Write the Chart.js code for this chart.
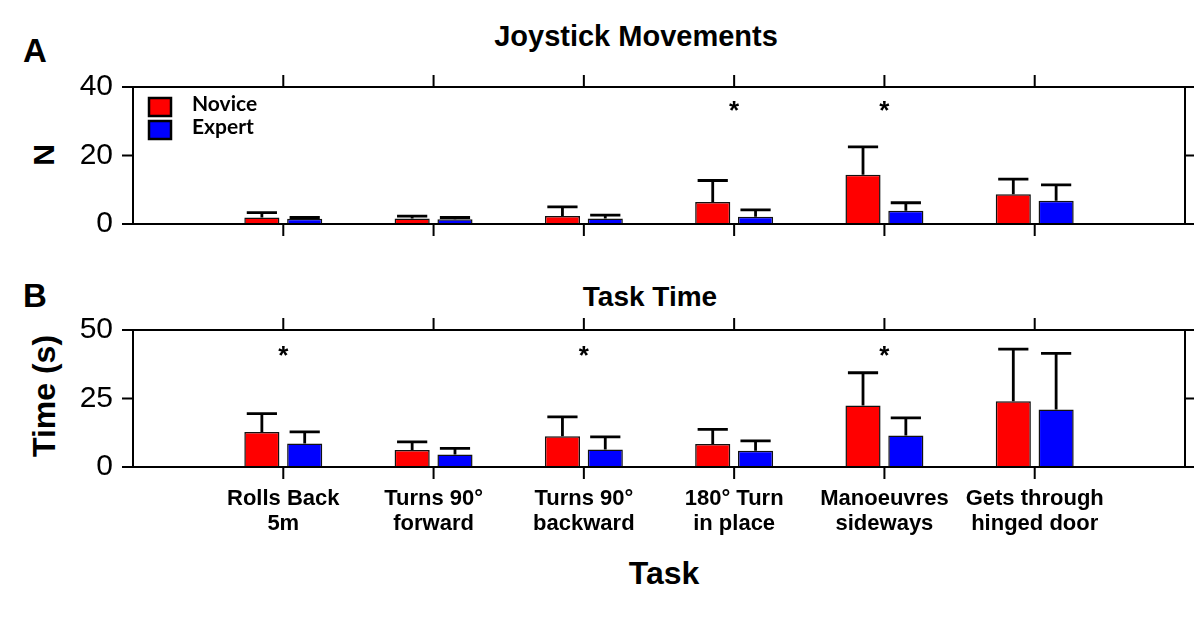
<!DOCTYPE html>
<html><head><meta charset="utf-8">
<script src="https://cdn.jsdelivr.net/npm/chart.js@4"></script>
<style>
body{margin:0;background:#fff;width:1200px;height:627px;overflow:hidden;position:relative;font-family:"Liberation Sans",Arial,sans-serif}
canvas{position:absolute;left:0}
.t{position:absolute;font-weight:bold;color:#000;white-space:nowrap;line-height:1}
</style></head><body>
<div class="t" style="left:23px;top:34px;font-size:33px">A</div>
<div class="t" style="left:23px;top:279px;font-size:33px">B</div>
<div class="t" style="left:636px;top:22px;font-size:29px;transform:translateX(-50%)">Joystick Movements</div>
<div class="t" style="left:650px;top:283px;font-size:28px;transform:translateX(-50%)">Task Time</div>
<div class="t" style="left:664px;top:557px;font-size:32px;transform:translateX(-50%)">Task</div>
<div class="t" style="left:44px;top:155px;font-size:30px;transform:translate(-50%,-50%) rotate(-90deg)">N</div>
<div class="t" style="left:44px;top:396px;font-size:32px;transform:translate(-50%,-50%) rotate(-90deg)">Time (s)</div>
<canvas id="cA" width="1200" height="270" style="top:0"></canvas>
<canvas id="cB" width="1200" height="377" style="top:250px"></canvas>
<script>
// ---- data ----
const tasks = [['Rolls Back','5m'],['Turns 90°','forward'],['Turns 90°','backward'],['180° Turn','in place'],['Manoeuvres','sideways'],['Gets through','hinged door']];
const seriesNames = ['Novice','Expert'];
const joyNovice    = [1.9, 1.6, 2.3, 6.4, 14.4, 8.7];
const joyNoviceErr = [1.4, 0.7, 2.7, 6.3, 8.1, 4.4];
const joyExpert    = [1.5, 1.4, 1.6, 2.1, 3.9, 6.8];
const joyExpertErr = [0.4, 0.5, 1.0, 2.0, 2.3, 4.6];
const joySig       = [false, false, false, true, true, false];
const timeNovice    = [12.8, 6.2, 11.2, 8.4, 22.4, 24.0];
const timeNoviceErr = [6.7, 3.0, 7.1, 5.3, 12.0, 19.0];
const timeExpert    = [8.6, 4.6, 6.4, 5.9, 11.5, 21.0];
const timeExpertErr = [4.2, 2.2, 4.6, 3.6, 6.4, 20.5];
const timeSig       = [true, false, true, false, true, false];
const joyTicks  = [0, 20, 40];
const timeTicks = [0, 25, 50];

const RED = '#ff0000', BLUE = '#0000ff';
const pad = a => [null, ...a, null];
const labels = ['', ...tasks, ''];

const panelPlugin = {
  id: 'panel',
  afterDatasetsDraw(chart, args, opts) {
    const ctx = chart.ctx, a = chart.chartArea, ys = chart.scales.y, xs = chart.scales.x;
    ctx.save();
    // error bars
    chart.data.datasets.forEach((ds, i) => {
      const meta = chart.getDatasetMeta(i);
      meta.data.forEach((el, j) => {
        const v = ds.data[j];
        if (v == null) return;
        const yc = ys.getPixelForValue(v + ds.err[j]);
        const hw = el.width * 0.43;
        ctx.strokeStyle = '#000'; ctx.lineWidth = 2.8; ctx.lineCap = 'butt';
        ctx.beginPath();
        ctx.moveTo(el.x, el.y); ctx.lineTo(el.x, yc);
        ctx.moveTo(el.x - hw, yc); ctx.lineTo(el.x + hw, yc);
        ctx.stroke();
      });
    });
    // frame
    ctx.strokeStyle = '#000'; ctx.lineWidth = 2;
    ctx.beginPath();
    ctx.moveTo(a.left, a.top); ctx.lineTo(a.right, a.top);
    ctx.moveTo(a.left, a.bottom); ctx.lineTo(a.right, a.bottom);
    ctx.moveTo(a.left, a.top - 1); ctx.lineTo(a.left, a.bottom + 1);
    ctx.moveTo(a.right, a.top - 1); ctx.lineTo(a.right, a.bottom + 1);
    // y ticks both sides, outward
    ys.ticks.forEach(t => {
      const y = ys.getPixelForValue(t.value);
      ctx.moveTo(a.left - 11, y); ctx.lineTo(a.left, y);
      ctx.moveTo(a.right, y); ctx.lineTo(a.right + 9, y);
    });
    // x ticks at categories top and bottom, outward
    for (let k = 1; k <= tasks.length; k++) {
      const x = xs.getPixelForValue(k);
      ctx.moveTo(x, a.top - 12); ctx.lineTo(x, a.top);
      ctx.moveTo(x, a.bottom); ctx.lineTo(x, a.bottom + 12);
    }
    ctx.stroke();
    // significance stars
    ctx.fillStyle = '#000';
    ctx.font = 'bold 26px "Liberation Sans", Arial';
    ctx.textAlign = 'center'; ctx.textBaseline = 'alphabetic';
    opts.sig.forEach((s, k) => {
      if (!s) return;
      const x = xs.getPixelForValue(k + 1);
      const y = ys.getPixelForValue(opts.starAt);
      ctx.fillText('*', x, y + 14);
    });
    // legend
    if (opts.legend) {
      chart.data.datasets.forEach((ds, i) => {
        const y0 = a.top + 11 + i * 23;
        ctx.fillStyle = ds.backgroundColor;
        ctx.fillRect(a.left + 16, y0, 22, 18);
        ctx.lineWidth = 2.5; ctx.strokeStyle = '#000';
        ctx.strokeRect(a.left + 16, y0, 22, 18);
        ctx.fillStyle = '#000';
        ctx.font = 'bold 21px Lato, "Open Sans", sans-serif';
        ctx.textAlign = 'left'; ctx.textBaseline = 'middle';
        ctx.fillText(ds.label, a.left + 59, y0 + 6);
      });
    }
    ctx.restore();
  }
};

function makeChart(id, nov, novErr, exp, expErr, tickVals, sig, starAt, showX, legend, padTop, padBottom, xH) {
  const ds = (name, data, err, color) => ({
    label: name, data: pad(data), err: pad(err),
    backgroundColor: color, borderColor: '#111', borderWidth: 1.5,
    barPercentage: 0.82, categoryPercentage: 0.57
  });
  return new Chart(document.getElementById(id), {
    type: 'bar',
    data: { labels, datasets: [ds(seriesNames[0], nov, novErr, RED), ds(seriesNames[1], exp, expErr, BLUE)] },
    options: {
      responsive: false, animation: false,
      layout: { padding: { top: padTop, bottom: padBottom, left: 0, right: 15 } },
      plugins: { legend: { display: false }, tooltip: { enabled: false }, panel: { sig, starAt, legend } },
      scales: {
        x: {
          display: showX, offset: false,
          grid: { display: false, drawTicks: false }, border: { display: false },
          ticks: { autoSkip: false, maxRotation: 0, minRotation: 0, padding: 20, color: '#000',
                   font: { family: '"Liberation Sans", Arial', size: 22, weight: 'bold', lineHeight: 1.12 } },
          afterFit: s => { s.height = xH; s.paddingLeft = 0; s.paddingRight = 0; }
        },
        y: {
          min: tickVals[0], max: tickVals[tickVals.length - 1],
          afterBuildTicks: s => { s.ticks = tickVals.map(v => ({ value: v })); },
          grid: { display: false, drawTicks: false }, border: { display: false },
          ticks: { padding: 20, color: '#000', font: { family: '"Liberation Sans", Arial', size: 30 } },
          afterFit: s => { s.width = 133; s.paddingTop = 0; s.paddingBottom = 0; }
        }
      }
    },
    plugins: [panelPlugin]
  });
}

makeChart('cA', joyNovice, joyNoviceErr, joyExpert, joyExpertErr, joyTicks, joySig, 34.7, false, true, 87, 46, 0);
makeChart('cB', timeNovice, timeNoviceErr, timeExpert, timeExpertErr, timeTicks, timeSig, 42.7, true, false, 80, 0, 160);
</script>
</body></html>
